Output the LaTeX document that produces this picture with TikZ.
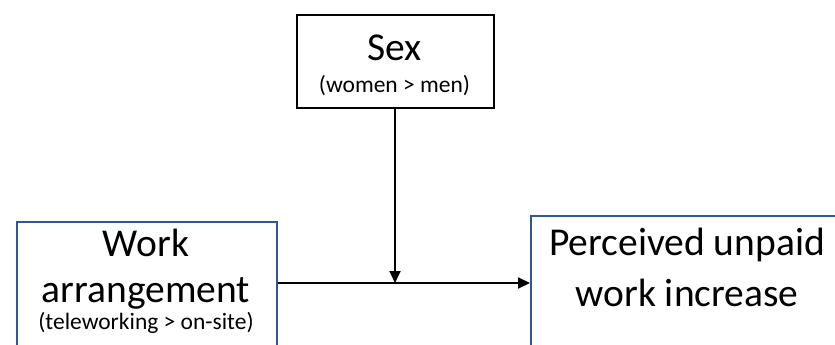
\documentclass[tikz,border=0pt]{standalone}
\usepackage{fontspec}
\setmainfont{Carlito}
\usetikzlibrary{arrows.meta}
\definecolor{boxblue}{HTML}{2F5597}
\begin{document}
\begin{tikzpicture}[x=1pt,y=-1pt,
  box/.style={draw=#1,line width=1.6pt,inner sep=0pt,anchor=north west},
  big/.style={font=\fontsize{39.5}{46}\selectfont,inner sep=0pt},
  small/.style={font=\fontsize{23.5}{28}\selectfont,inner sep=0pt},
  conn/.style={line width=1.8pt,-{Triangle[length=12pt,width=11pt]}}]
\useasboundingbox (0,0) rectangle (835,345);
\clip (0,0) rectangle (835,345);
% boxes
\node[box=black,minimum width=197pt,minimum height=93pt] (sex) at (296,14) {};
\node[box=boxblue,minimum width=260pt,minimum height=140pt] (work) at (16,221) {};
\node[box=boxblue,minimum width=330pt,minimum height=150pt] (perc) at (530,215) {};
% texts
\node[big] (sext) at (394.5,48) {Sex};
\node[small] (sexs) at (394.5,86) {(women > men)};
\node[big] (w1) at (146,243) {Work};
\node[big] (w2) at (146,293) {arrangement};
\node[small] (w3) at (146,323) {(teleworking > on-site)};
\node[big] (p1) at (687,245) {Perceived unpaid};
\node[big] (p2) at (687,293) {work increase};
% connectors
\coordinate (mid) at (395,283);
\draw[conn] (work.east |- mid) -- (perc.west |- mid);
\draw[conn] (sex.south -| mid) -- (mid);
\end{tikzpicture}
\end{document}
